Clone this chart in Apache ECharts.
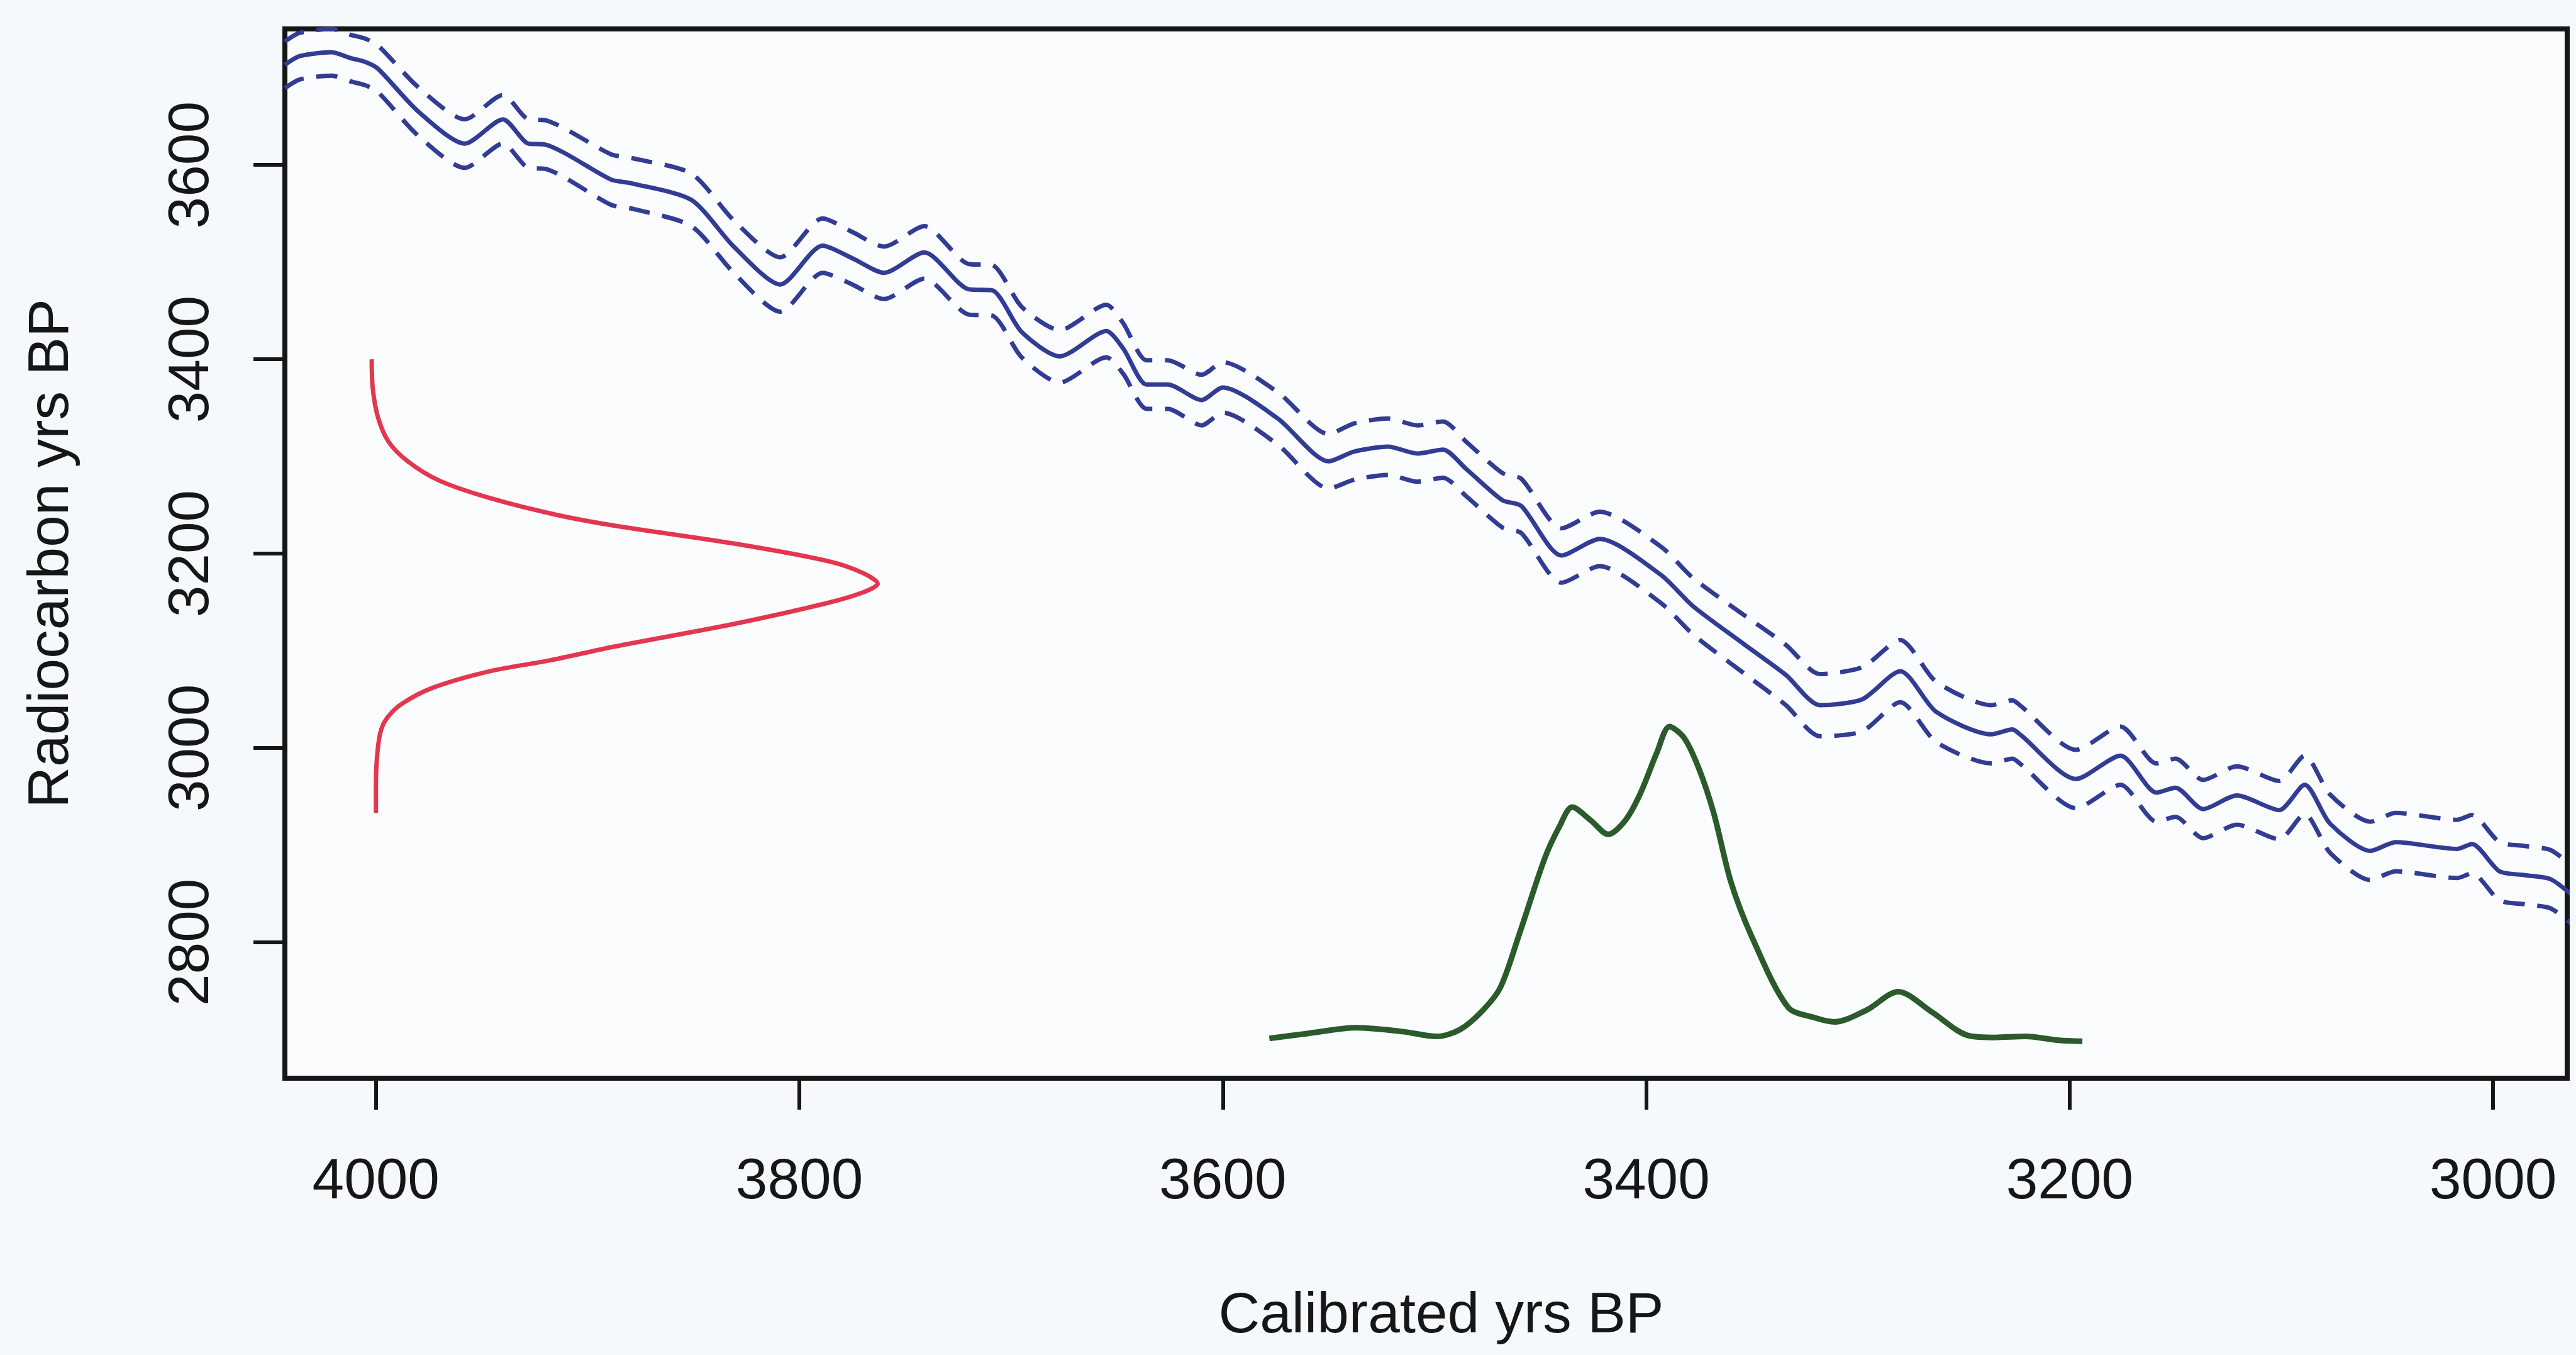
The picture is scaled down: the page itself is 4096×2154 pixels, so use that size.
<!DOCTYPE html>
<html>
<head>
<meta charset="utf-8">
<script src="https://cdn.jsdelivr.net/npm/echarts@6/dist/echarts.min.js"></script>
<style>
  html, body { margin: 0; padding: 0; background: #f6f9fc; }
  #chart { width: 4096px; height: 2154px; }
</style>
</head>
<body>
<div id="chart"></div>
<script>
// ---- tick labels ----
const calTicks = [4000, 3800, 3600, 3400, 3200, 3000];
const c14Ticks = [2800, 3000, 3200, 3400, 3600];

// ---- calibration curve (blue): calibrated yrs BP, radiocarbon yrs BP, 1-sigma error ----
const curveCal = [4043, 4036, 4021, 4012, 4005, 3999, 3980, 3958, 3940, 3928, 3920, 3889, 3879, 3851, 3831, 3809,
  3789, 3775, 3760, 3741, 3720, 3709, 3695, 3677, 3655, 3647, 3636, 3626, 3610, 3600, 3574, 3550, 3538, 3522, 3508,
  3496, 3485, 3468, 3459, 3440, 3422, 3393, 3378, 3354, 3334, 3318, 3298, 3280, 3263, 3237, 3227, 3223, 3197, 3176,
  3159, 3150, 3137, 3121, 3101, 3089, 3077, 3058, 3046, 3017, 3010, 2997, 2985, 2973, 2963];
const curveC14 = [3703, 3712, 3716, 3710, 3706, 3699, 3655, 3622, 3647, 3622, 3621, 3585, 3581, 3564, 3516, 3477,
  3517, 3504, 3489, 3510, 3472, 3471, 3428, 3403, 3429, 3411, 3374, 3374, 3358, 3371, 3339, 3295, 3305, 3310, 3303,
  3307, 3287, 3255, 3249, 3198, 3215, 3178, 3146, 3107, 3075, 3044, 3050, 3079, 3037, 3014, 3019, 3013, 2968, 2992,
  2954, 2959, 2937, 2951, 2936, 2962, 2922, 2894, 2903, 2896, 2901, 2873, 2869, 2865, 2849];
const curveErr = [24, 24, 24, 24, 24, 24, 25, 25, 25, 25, 25, 26, 26, 27, 27, 28,
  28, 27, 27, 27, 26, 26, 26, 27, 27, 26, 25, 25, 26, 26, 27, 28, 29, 29, 29,
  29, 28, 28, 28, 28, 28, 29, 29, 30, 31, 32, 33, 32, 31, 30, 30, 30, 30, 30,
  30, 30, 30, 30, 30, 30, 30, 30, 30, 30, 30, 30, 30, 30, 30];

// ---- radiocarbon date distribution (red), drawn along the radiocarbon axis ----
const dateC14 = [3400, 3370, 3340, 3315, 3295, 3275, 3257, 3240, 3229, 3210, 3192, 3180, 3169, 3160, 3149, 3128,
  3104, 3090, 3079, 3062, 3045, 3030, 3015, 2990, 2960, 2933];
const dateCal = [4002, 4001.5, 3999, 3994, 3985, 3970, 3946, 3915, 3888, 3830, 3786, 3770, 3763, 3770, 3787, 3830,
  3888, 3918, 3946, 3973, 3988, 3995, 3998, 3999.5, 4000, 4000];

// ---- calibrated date distribution (green), drawn above the 2700 baseline ----
const calibCal = [3578, 3560, 3537, 3515, 3499, 3488, 3478, 3469, 3460, 3448, 3441, 3435, 3426, 3418, 3410, 3403,
  3395, 3389, 3382, 3375, 3368, 3360, 3350, 3333, 3320, 3311, 3296, 3281, 3265, 3248, 3235, 3221, 3205, 3194];
const calibC14 = [2701, 2706, 2712, 2708, 2703, 2710, 2728, 2753, 2808, 2886, 2919, 2939, 2925, 2911, 2925, 2952,
  2995, 3022, 3010, 2978, 2932, 2862, 2805, 2733, 2722, 2718, 2730, 2749, 2728, 2704, 2702, 2703, 2699, 2698];

const zip = (xs, ys) => xs.map((x, i) => [x, ys[i]]);
const curveMid = zip(curveCal, curveC14);
const curveUp = curveCal.map((x, i) => [x, curveC14[i] + curveErr[i]]);
const curveLo = curveCal.map((x, i) => [x, curveC14[i] - curveErr[i]]);
const dateLine = zip(dateCal, dateC14);
const calibLine = zip(calibCal, calibC14);

const FONT = 'Liberation Sans, Arial, Helvetica, sans-serif';
const INK = '#161616';
const BLUE = '#323c94';
const plain = v => String(v);

const chart = echarts.init(document.getElementById('chart'), null, { renderer: 'canvas' });
chart.setOption({
  animation: false,
  backgroundColor: '#f6f9fc',
  grid: {
    left: 453, top: 46, width: 3629, height: 1668,
    show: true, backgroundColor: '#fbfcfe', borderColor: INK, borderWidth: 8
  },
  xAxis: {
    type: 'value', min: 2965, max: 4043, inverse: true,
    name: 'Calibrated yrs BP', nameLocation: 'middle', nameGap: 333,
    nameTextStyle: { fontFamily: FONT, fontSize: 91, color: INK, padding: [0, 0, 0, 48] },
    axisLine: { show: false },
    splitLine: { show: false },
    axisTick: { show: true, inside: false, length: 50, customValues: calTicks, lineStyle: { color: INK, width: 6 } },
    axisLabel: { show: true, customValues: calTicks, formatter: plain, margin: 120, fontFamily: FONT, fontSize: 91, color: INK }
  },
  yAxis: {
    type: 'value', min: 2660, max: 3740,
    name: 'Radiocarbon yrs BP', nameLocation: 'middle', nameGap: 325, nameRotate: 90,
    nameTextStyle: { fontFamily: FONT, fontSize: 91, color: INK },
    axisLine: { show: false },
    splitLine: { show: false },
    axisTick: { show: true, inside: false, length: 50, customValues: c14Ticks, lineStyle: { color: INK, width: 6 } },
    axisLabel: { show: true, customValues: c14Ticks, formatter: plain, rotate: 90, margin: 102, fontFamily: FONT, fontSize: 91, color: INK }
  },
  series: [
    { type: 'line', name: 'calib', data: curveMid, showSymbol: false, smooth: 0.25,
      lineStyle: { color: BLUE, width: 7 } },
    { type: 'line', name: 'upper', data: curveUp, showSymbol: false, smooth: 0.25,
      lineStyle: { color: BLUE, width: 7, type: [34, 20] } },
    { type: 'line', name: 'lower', data: curveLo, showSymbol: false, smooth: 0.25,
      lineStyle: { color: BLUE, width: 7, type: [34, 20] } },
    { type: 'line', name: 'date', data: dateLine, showSymbol: false, smooth: 0.3,
      lineStyle: { color: '#e2374f', width: 7 } },
    { type: 'line', name: 'calibrated', data: calibLine, showSymbol: false, smooth: 0.3,
      lineStyle: { color: '#2b5a2b', width: 9 } }
  ]
});
</script>
</body>
</html>
